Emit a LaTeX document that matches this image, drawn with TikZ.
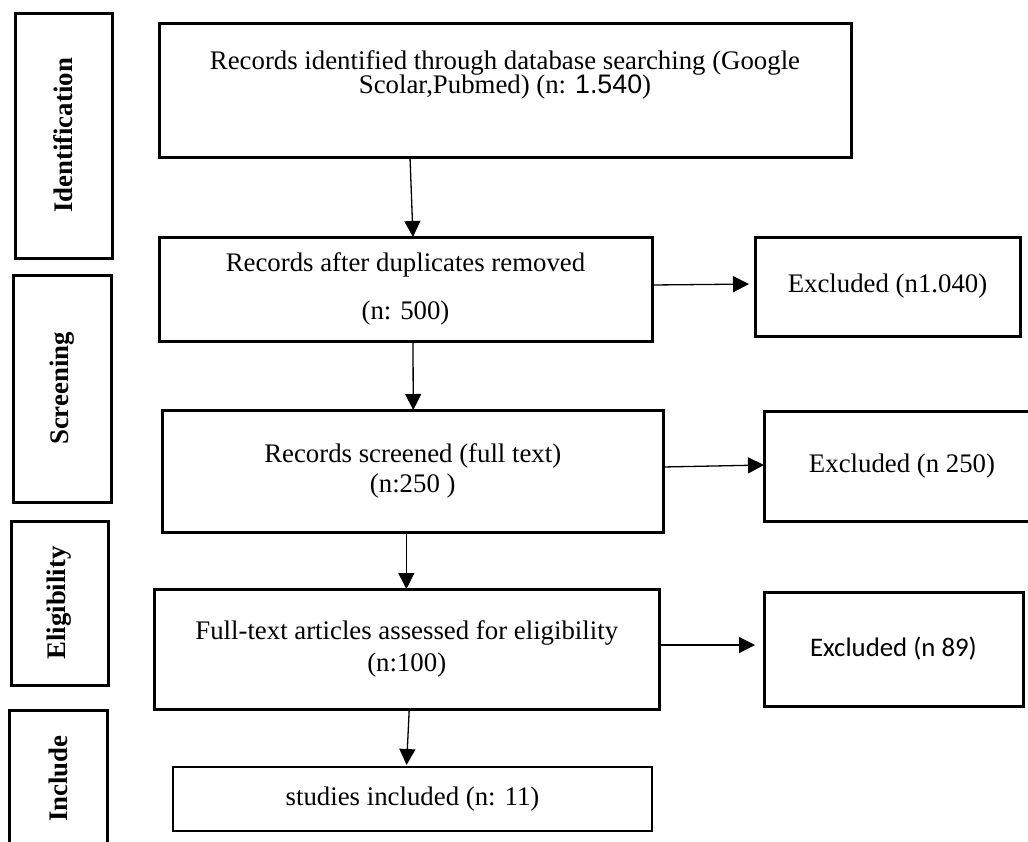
\documentclass[tikz,border=0pt]{standalone}
\usepackage{fontspec}
\setmainfont{Liberation Serif}
\newfontfamily\arialfont{Liberation Sans}
\newfontfamily\calibrifont{Carlito}
\usetikzlibrary{arrows.meta}

\tikzset{
	stage/.style={draw,rectangle,rotate=90,line width=1.5pt,outer sep=0pt,font=\fontsize{13.4}{15}\selectfont\bfseries},
	box/.style={draw,rectangle,align=center,line width=1.5pt,outer sep=0pt,font=\fontsize{13.4}{15}\selectfont},
	flow/.style={line width=0.65pt,-{Triangle[length=8pt,width=8pt]}},
}

\begin{document}
\begin{tikzpicture}[x=0.5pt,y=-0.5pt]

	\useasboundingbox (0,0) rectangle (1028,841);
	\clip (0,0) rectangle (1028,841);

	% stages
	\node[stage,minimum width=122.5pt,minimum height=48.5pt] (identification) at (63.5,135.5) {Identification};
	\node[stage,minimum width=113.5pt,minimum height=49pt]   (screening)      at (62,388.5)    {Screening};
	\node[stage,minimum width=82pt,minimum height=48.5pt]    (eligibility)    at (59.5,603)    {Eligibility};
	\node[stage,minimum width=68.5pt,minimum height=49pt]    (include)        at (58,778.5)    {Include};

	% flow
	\node[box,minimum width=346pt,minimum height=67pt]     (ident) at (505,90)      {};
	\node[box,minimum width=246.5pt,minimum height=52pt]   (dup)   at (405.5,289)   {Records after duplicates removed\\[9pt] (n: 500)};
	\node[box,minimum width=250.25pt,minimum height=61pt]  (scr)   at (412.75,471)  {Records screened (full text)\\ (n:250 )};
	\node[box,minimum width=252.5pt,minimum height=60pt]   (full)  at (406.75,649)  {Full-text articles assessed for eligibility\\[1pt] (n:100)};
	\node[box,line width=0.9pt,minimum width=239.5pt,minimum height=32pt] (incl) at (412.5,799) {studies included (n: 11)};

	\node[inner sep=0pt,align=center,font={\fontsize{13.4}{12}\selectfont\lineskiplimit=-5pt}]
		at ([yshift=-13.5pt]ident.north) [below] {Records identified through database searching (Google\\ Scolar,Pubmed) (n: {\arialfont 1.540})};

	% excluded
	\node[box,minimum width=132.5pt,minimum height=49.5pt] (excl1) at (887.5,286.5) {Excluded (n1.040)};
	\node[box,minimum width=138pt,minimum height=55pt]     (excl2) at (902,466)     {Excluded (n 250)};
	\node[box,minimum width=129.5pt,minimum height=57pt,font=\fontsize{13.4}{15}\calibrifont] (excl3) at (893.5,649) {Excluded (n 89)};

	\draw[flow] ([xshift=-47.5pt]ident.south) -- ([xshift=3.75pt]dup.north);
	\draw[flow] ([xshift=3.75pt]dup.south)    -- ([xshift=0.25pt]scr.north);
	\draw[flow] ([xshift=-3.2pt]scr.south)    -- ([xshift=-0.2pt]full.north);
	\draw[flow,shorten >=1pt] ([xshift=1.25pt]full.south) -- ([xshift=-3pt]incl.north);

	\draw[flow,shorten >=3pt]   ([yshift=2pt]dup.east)  -- ([yshift=1.25pt]excl1.west);
	\draw[flow]                 ([yshift=2pt]scr.east)  -- ([yshift=0.5pt]excl2.west);
	\draw[flow,shorten >=4.5pt] ([yshift=2pt]full.east) -- ([yshift=2pt]excl3.west);

\end{tikzpicture}
\end{document}
